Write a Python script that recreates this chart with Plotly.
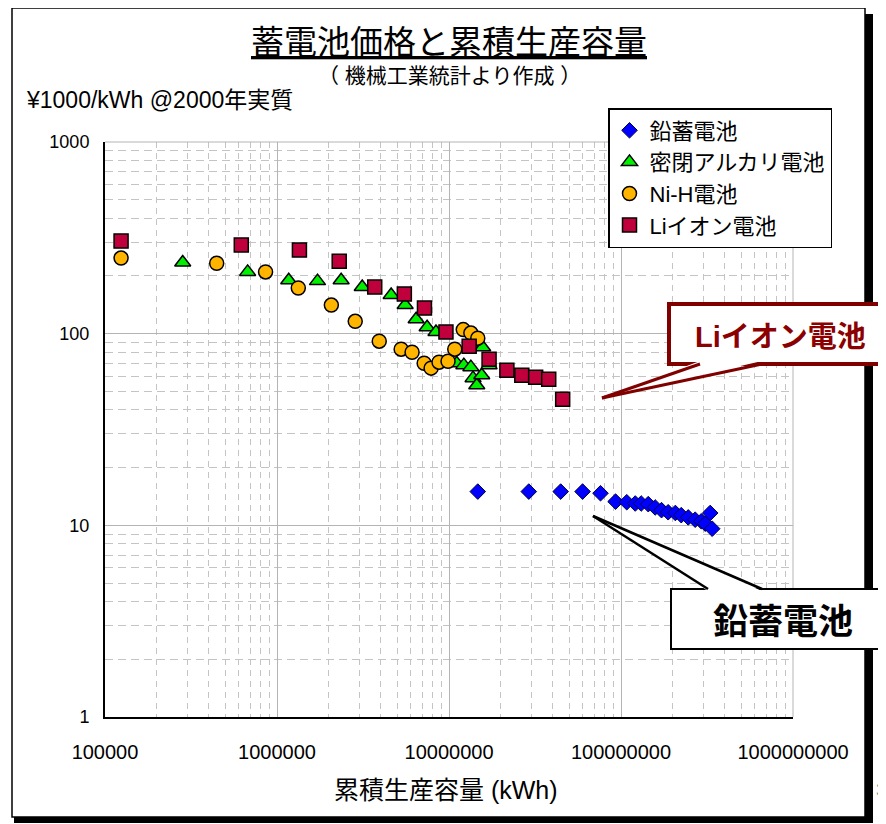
import plotly.graph_objects as go

# ---------------- data ----------------
lead_x = [1.47e7, 2.91e7, 4.46e7, 5.98e7, 7.6e7, 9.3e7, 1.08e8, 1.21e8, 1.31e8, 1.44e8,
          1.58e8, 1.72e8, 1.88e8, 2.07e8, 2.24e8, 2.46e8, 2.70e8, 2.93e8, 3.09e8, 3.30e8, 3.39e8]
lead_y = [15.0, 15.0, 15.0, 15.0, 14.7, 13.3, 13.2, 13.0, 13.0, 12.9,
          12.4, 12.0, 11.7, 11.6, 11.3, 11.0, 10.7, 10.5, 10.2, 11.6, 9.6]

alk_x = [2.83e5, 6.75e5, 1.17e6, 1.72e6, 2.36e6, 3.13e6, 4.61e6, 5.56e6, 6.44e6, 7.46e6,
         8.4e6, 1.11e7, 1.22e7, 1.34e7, 1.38e7, 1.45e7, 1.55e7, 1.57e7, 1.71e7]
alk_y = [235, 210, 190, 188, 190, 175, 159, 141, 119, 108,
         102, 70, 68.5, 66.9, 58.6, 53.8, 60.7, 85, 68.5]

nih_x = [1.24e5, 4.46e5, 8.58e5, 1.33e6, 2.07e6, 2.85e6, 3.93e6, 5.27e6, 6.1e6, 7.17e6,
         7.87e6, 8.75e6, 9.87e6, 1.08e7, 1.21e7, 1.34e7, 1.47e7]
nih_y = [248, 233, 210, 173, 141, 116, 91.4, 83, 80, 70.1,
         66.1, 71.0, 71.8, 83, 105, 100.7, 94.7]

li_x = [1.24e5, 6.2e5, 1.35e6, 2.3e6, 3.7e6, 5.5e6, 7.2e6, 9.6e6, 1.31e7, 1.71e7,
        2.17e7, 2.65e7, 3.19e7, 3.8e7, 4.58e7]
li_y = [304, 290, 273, 239, 175, 161, 136, 102, 86, 73.6,
        64.4, 60.7, 59.3, 57.8, 45.5]

series_names = ["鉛蓄電池", "密閉アルカリ電池", "Ni-H電池", "Liイオン電池"]

x_tickvals = [1e5, 1e6, 1e7, 1e8, 1e9]
x_ticktext = ["100000", "1000000", "10000000", "100000000", "1000000000"]
y_tickvals = [1, 10, 100, 1000]
y_ticktext = ["1", "10", "100", "1000"]

title_text = "蓄電池価格と累積生産容量"
subtitle_text = "（ 機械工業統計より作成 ）"
yunit_text = "¥1000/kWh @2000年実質"
xaxis_title = "累積生産容量 (kWh)"

# ---------------- layout geometry ----------------
W, H = 886, 824
OFF = 8                       # page body margin offset
PL, PR, PT, PB = 105, 793, 142, 717   # plot area in screen pixels
L = PL - OFF
T = PT - OFF
R = W - (PR - OFF)
B = H - (PB - OFF)


def px(x):
    return (x - PL) / (PR - PL)


def py(y):
    return (PB - y) / (PB - PT)


FONT = "Liberation Sans, Noto Sans CJK JP, sans-serif"

fig = go.Figure()

mk_line = dict(color="#000000", width=1.5)
fig.add_trace(go.Scatter(x=lead_x, y=lead_y, mode="markers", name=series_names[0],
                         marker=dict(symbol="diamond", size=12, color="#0000FF",
                                     line=dict(color="#000040", width=1))))
fig.add_trace(go.Scatter(x=alk_x, y=alk_y, mode="markers", name=series_names[1],
                         marker=dict(symbol="triangle-up", size=14, color="#00F000", line=mk_line)))
fig.add_trace(go.Scatter(x=nih_x, y=nih_y, mode="markers", name=series_names[2],
                         marker=dict(symbol="circle", size=14, color="#FFB400", line=mk_line)))
fig.add_trace(go.Scatter(x=li_x, y=li_y, mode="markers", name=series_names[3],
                         marker=dict(symbol="square", size=14, color="#C0003C", line=mk_line)))

grid_major = "#b4b4b4"
grid_minor = "#c4c4c4"

fig.update_xaxes(
    type="log", range=[5, 9], tickmode="array", tickvals=x_tickvals, ticktext=x_ticktext,
    showgrid=True, gridcolor=grid_major, gridwidth=1,
    minor=dict(dtick="D1", showgrid=True, gridcolor=grid_minor, griddash="6px,5px", gridwidth=1),
    showline=True, linecolor="#000000", linewidth=2, mirror=False,
    ticks="", ticklabelstandoff=16, zeroline=False,
    tickfont=dict(family=FONT, size=20, color="#000000"),
)
fig.update_yaxes(
    type="log", range=[0, 3], tickmode="array", tickvals=y_tickvals, ticktext=y_ticktext,
    showgrid=True, gridcolor=grid_major, gridwidth=1,
    minor=dict(dtick="D1", showgrid=True, gridcolor=grid_minor, griddash="8px,5px", gridwidth=1),
    showline=True, linecolor="#000000", linewidth=2, mirror=False,
    ticks="", ticklabelstandoff=10, zeroline=False,
    tickfont=dict(family=FONT, size=18, color="#000000"),
)

shapes = [
    # plot border top/right (gray)
    dict(type="line", xref="paper", yref="paper", x0=0, y0=1, x1=1, y1=1,
         line=dict(color=grid_major, width=1)),
    dict(type="line", xref="paper", yref="paper", x0=1, y0=0, x1=1, y1=1,
         line=dict(color=grid_major, width=1)),
    # outer frame
    dict(type="rect", xref="paper", yref="paper", x0=px(12), y0=py(8), x1=px(865), y1=py(817),
         line=dict(color="#000000", width=1.5)),
    dict(type="rect", xref="paper", yref="paper", x0=px(865), y0=py(14), x1=px(873), y1=py(823),
         fillcolor="#000000", line=dict(width=0)),
    dict(type="rect", xref="paper", yref="paper", x0=px(14), y0=py(817), x1=px(873), y1=py(823),
         fillcolor="#000000", line=dict(width=0)),
    # Li-ion callout
    dict(type="rect", xref="paper", yref="paper", x0=px(669), y0=py(304), x1=px(900), y1=py(364),
         fillcolor="#ffffff", line=dict(color="#800000", width=4)),
    dict(type="path", xref="paper", yref="paper",
         path=f"M {px(602)},{py(398)} L {px(700)},{py(361)} L {px(762)},{py(361)} Z",
         fillcolor="#ffffff", line=dict(width=0)),
    dict(type="line", xref="paper", yref="paper", x0=px(602), y0=py(398), x1=px(700), y1=py(364),
         line=dict(color="#800000", width=3)),
    dict(type="line", xref="paper", yref="paper", x0=px(602), y0=py(398), x1=px(762), y1=py(364),
         line=dict(color="#800000", width=3)),
    # Lead-acid callout
    dict(type="rect", xref="paper", yref="paper", x0=px(671), y0=py(589), x1=px(900), y1=py(649),
         fillcolor="#ffffff", line=dict(color="#000000", width=2)),
    dict(type="path", xref="paper", yref="paper",
         path=f"M {px(593)},{py(516)} L {px(708)},{py(591)} L {px(762)},{py(591)} Z",
         fillcolor="#ffffff", line=dict(width=0)),
    dict(type="line", xref="paper", yref="paper", x0=px(593), y0=py(516), x1=px(708), y1=py(589),
         line=dict(color="#000000", width=2.5)),
    dict(type="line", xref="paper", yref="paper", x0=px(593), y0=py(516), x1=px(762), y1=py(589),
         line=dict(color="#000000", width=2.5)),
]

annotations = [
    dict(text=f"<u>{title_text}</u>", x=px(449), y=py(43), xref="paper", yref="paper",
         showarrow=False, xanchor="center", yanchor="middle",
         font=dict(family=FONT, size=33, color="#000000")),
    dict(text=subtitle_text, x=px(449), y=py(76), xref="paper", yref="paper",
         showarrow=False, xanchor="center", yanchor="middle",
         font=dict(family=FONT, size=21, color="#000000")),
    dict(text=yunit_text, x=px(24), y=py(100), xref="paper", yref="paper",
         showarrow=False, xanchor="left", yanchor="middle",
         font=dict(family=FONT, size=23, color="#000000")),
    dict(text=xaxis_title, x=px(446), y=py(790), xref="paper", yref="paper",
         showarrow=False, xanchor="center", yanchor="middle",
         font=dict(family=FONT, size=25, color="#000000")),
    dict(text="<b>Liイオン電池</b>", x=px(780), y=py(337), xref="paper", yref="paper",
         showarrow=False, xanchor="center", yanchor="middle",
         font=dict(family=FONT, size=29, color="#8B0000")),
    dict(text="<b>鉛蓄電池</b>", x=px(783), y=py(621), xref="paper", yref="paper",
         showarrow=False, xanchor="center", yanchor="middle",
         font=dict(family=FONT, size=35, color="#000000")),
    dict(text="3", x=px(874), y=py(790), xref="paper", yref="paper",
         showarrow=False, xanchor="left", yanchor="middle",
         font=dict(family=FONT, size=18, color="#909090")),
]

fig.update_layout(
    width=W, height=H,
    margin=dict(l=L, r=R, t=T, b=B, pad=0),
    paper_bgcolor="#ffffff", plot_bgcolor="#ffffff",
    showlegend=True,
    legend=dict(x=px(608), y=py(108), xanchor="left", yanchor="top",
                xref="paper", yref="paper",
                bgcolor="#ffffff", bordercolor="#000000", borderwidth=1.5,
                font=dict(family=FONT, size=22, color="#000000"),
                itemsizing="trace", tracegroupgap=0),
    shapes=shapes,
    annotations=annotations,
    font=dict(family=FONT),
)

fig.write_html("out.html")
